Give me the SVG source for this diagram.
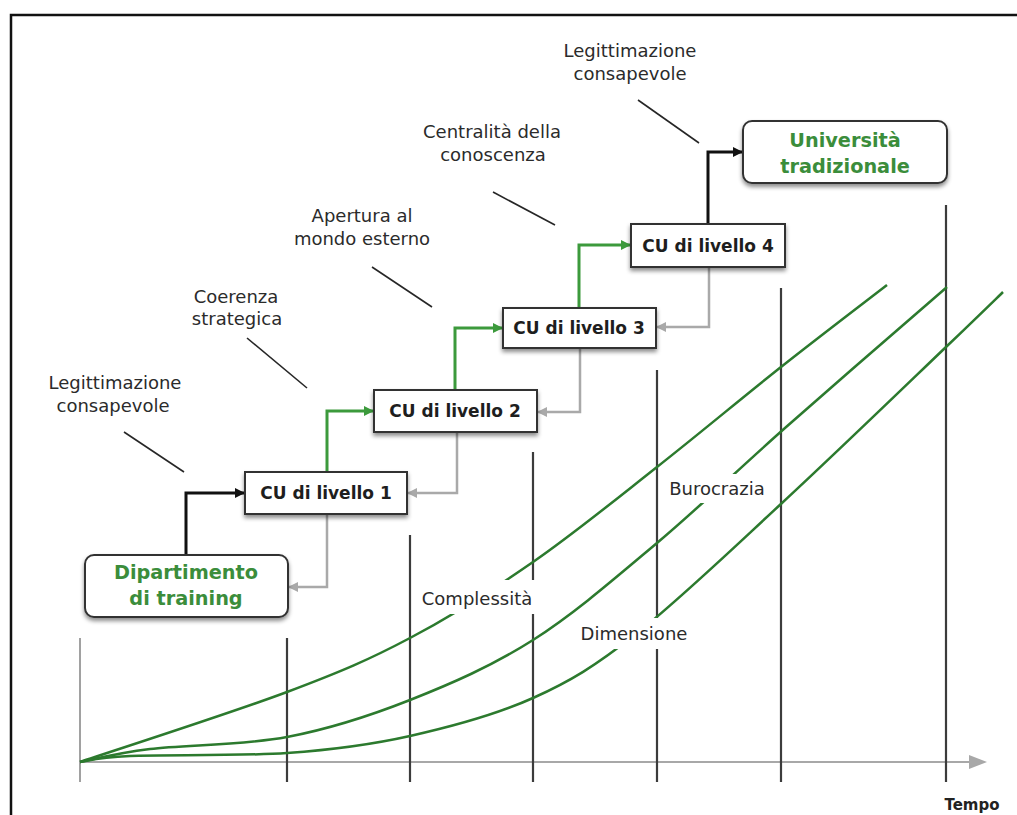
<svg xmlns="http://www.w3.org/2000/svg" width="1017" height="815" viewBox="0 0 1017 815">
  <style>
    .lbl { font-family: "DejaVu Sans", "Open Sans", sans-serif; font-size: 18px; fill: #2b2b2b; text-anchor: middle; }
    .node-txt { font-family: "DejaVu Sans", "Open Sans", sans-serif; font-size: 17px; font-weight: 700; fill: #1e1e1e; text-anchor: middle; }
    .green-txt { font-family: "DejaVu Sans", "Open Sans", sans-serif; font-size: 19.3px; font-weight: 700; fill: #3b8d3b; text-anchor: middle; }
    .box { fill: #fff; stroke: #333; stroke-width: 2; filter: url(#shadow); }
    .leader { stroke: #262626; stroke-width: 1.6; }
    .grid { stroke: #3c3c3c; stroke-width: 2.2; }
    .curve { fill: none; stroke: #2c7a2e; stroke-width: 2.5; }
    .conn-black { fill: none; stroke: #111; stroke-width: 3; marker-end: url(#ah-black); }
    .conn-green { fill: none; stroke: #3c9a3c; stroke-width: 3; marker-end: url(#ah-green); }
    .conn-grey { fill: none; stroke: #a9a9a9; stroke-width: 2.5; marker-end: url(#ah-grey); }
    .cover { fill: #fff; }
  </style>
  <defs>
    <filter id="shadow" x="-10%" y="-20%" width="120%" height="160%">
      <feDropShadow dx="0" dy="3" stdDeviation="2.2" flood-color="#000" flood-opacity="0.45"/>
    </filter>
    <marker id="ah-black" viewBox="0 0 10 10" refX="10" refY="5" markerWidth="11" markerHeight="10" markerUnits="userSpaceOnUse" orient="auto">
      <path d="M0,0 L10,5 L0,10 z" fill="#111"/>
    </marker>
    <marker id="ah-green" viewBox="0 0 10 10" refX="10" refY="5" markerWidth="11" markerHeight="10" markerUnits="userSpaceOnUse" orient="auto">
      <path d="M0,0 L10,5 L0,10 z" fill="#3c9a3c"/>
    </marker>
    <marker id="ah-grey" viewBox="0 0 10 10" refX="10" refY="5" markerWidth="11" markerHeight="10" markerUnits="userSpaceOnUse" orient="auto">
      <path d="M0,0 L10,5 L0,10 z" fill="#a9a9a9"/>
    </marker>
  </defs>

  <rect width="1017" height="815" fill="#fff"/>
  <!-- outer frame -->
  <rect x="11" y="15" width="1030" height="830" fill="none" stroke="#111" stroke-width="2.5"/>

  <!-- time axis and grid -->
  <g id="axis">
    <line x1="80" y1="762" x2="972" y2="762" stroke="#a8a8a8" stroke-width="2.2"/>
    <polygon points="969,755 987,762 969,769" fill="#a8a8a8"/>
    <line x1="80" y1="638" x2="80" y2="782" stroke="#8a8a8a" stroke-width="1.6"/>
    <line class="grid" x1="287" y1="638" x2="287" y2="782"/>
    <line class="grid" x1="410" y1="535" x2="410" y2="782"/>
    <line class="grid" x1="533" y1="452" x2="533" y2="782"/>
    <line class="grid" x1="657" y1="370" x2="657" y2="782"/>
    <line class="grid" x1="781" y1="288" x2="781" y2="782"/>
    <line class="grid" x1="946" y1="205" x2="946" y2="782"/>
    <text x="972" y="810" font-family="'DejaVu Sans', 'Open Sans', sans-serif" font-size="15" font-weight="700" fill="#222" text-anchor="middle">Tempo</text>
  </g>

  <!-- growth curves -->
  <g id="curves">
    <path class="curve" d="M80,762 C114.5,750.3 232,712.7 287,692 C342,671.3 369,659.7 410,638 C451,616.3 491.8,590.5 533,562 C574.2,533.5 615.7,499.5 657,467 C698.3,434.5 742.7,397.3 781,367 C819.3,336.7 869.3,298.7 887,285"/>
    <path class="curve" d="M80,762 C91.7,759.8 115.5,753.2 150,749 C184.5,744.8 243.7,745.2 287,737 C330.3,728.8 369,716.2 410,700 C451,683.8 491.8,666.2 533,640 C574.2,613.8 615,578.3 657,543 C699,507.7 736.7,470.7 785,428 C833.3,385.3 920,310.5 947,287"/>
    <path class="curve" d="M80,762 C88.3,761 95.5,757.5 130,756 C164.5,754.5 240.3,756.3 287,753 C333.7,749.7 369,745.2 410,736 C451,726.8 495.3,715 533,698 C570.7,681 594.5,666.5 636,634 C677.5,601.5 730.3,550.8 782,503 C833.7,455.2 909.2,382.2 946,347 C982.8,311.8 993.5,301.2 1003,292"/>
  </g>

  <!-- curve labels -->
  <g id="curve-labels">
    <rect class="cover" x="418" y="580" width="120" height="34"/>
    <text class="lbl" x="477" y="605">Complessità</text>
    <rect class="cover" x="665" y="474" width="105" height="29"/>
    <text class="lbl" x="717" y="495">Burocrazia</text>
    <rect class="cover" x="580" y="618" width="110" height="31"/>
    <text class="lbl" x="634" y="640">Dimensione</text>
  </g>

  <!-- stage labels with leader lines -->
  <g id="stage-labels">
    <text class="lbl" x="115" y="389">Legittimazione</text>
    <text class="lbl" x="113" y="412">consapevole</text>
    <line class="leader" x1="124" y1="432" x2="184" y2="472"/>

    <text class="lbl" x="236" y="303">Coerenza</text>
    <text class="lbl" x="237" y="325">strategica</text>
    <line class="leader" x1="247" y1="338" x2="307" y2="388"/>

    <text class="lbl" x="362" y="222">Apertura al</text>
    <text class="lbl" x="362" y="245">mondo esterno</text>
    <line class="leader" x1="372" y1="267" x2="432" y2="307"/>

    <text class="lbl" x="492" y="138">Centralità della</text>
    <text class="lbl" x="493" y="161">conoscenza</text>
    <line class="leader" x1="493" y1="192" x2="555" y2="225"/>

    <text class="lbl" x="630" y="57">Legittimazione</text>
    <text class="lbl" x="630" y="80">consapevole</text>
    <line class="leader" x1="638" y1="100" x2="699" y2="143"/>
  </g>

  <!-- connectors -->
  <g id="connectors">
    <path class="conn-black" d="M186,555 V493 H245"/>
    <path class="conn-green" d="M327,472 V411 H374"/>
    <path class="conn-green" d="M455,390 V328 H503"/>
    <path class="conn-green" d="M579,308 V245 H631"/>
    <path class="conn-black" d="M708,224 V152 H743"/>
    <path class="conn-grey" d="M327,514 V587 H288"/>
    <path class="conn-grey" d="M457,432 V493 H407"/>
    <path class="conn-grey" d="M580,348 V412 H537"/>
    <path class="conn-grey" d="M709,267 V327 H656"/>
  </g>

  <!-- nodes -->
  <g id="node-dipartimento">
    <rect class="box" x="85" y="555" width="203" height="62" rx="9"/>
    <text class="green-txt" x="186" y="579">Dipartimento</text>
    <text class="green-txt" x="186" y="605">di training</text>
  </g>
  <g id="node-cu1">
    <rect class="box" x="245" y="472" width="162" height="42"/>
    <text class="node-txt" x="326" y="499">CU di livello 1</text>
  </g>
  <g id="node-cu2">
    <rect class="box" x="374" y="390" width="163" height="42"/>
    <text class="node-txt" x="455" y="417">CU di livello 2</text>
  </g>
  <g id="node-cu3">
    <rect class="box" x="503" y="308" width="153" height="40"/>
    <text class="node-txt" x="579" y="334">CU di livello 3</text>
  </g>
  <g id="node-cu4">
    <rect class="box" x="631" y="224" width="154" height="43"/>
    <text class="node-txt" x="708" y="252">CU di livello 4</text>
  </g>
  <g id="node-universita">
    <rect class="box" x="743" y="121" width="204" height="62" rx="9"/>
    <text class="green-txt" x="845" y="147">Università</text>
    <text class="green-txt" x="845" y="173">tradizionale</text>
  </g>
</svg>
